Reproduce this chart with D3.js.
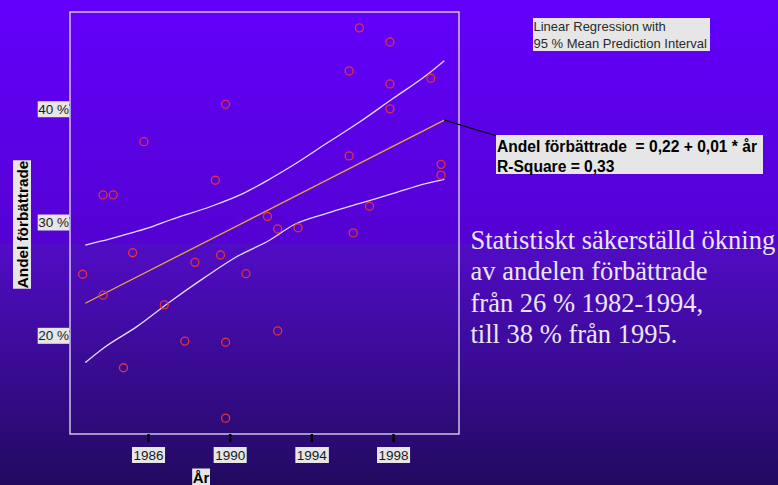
<!DOCTYPE html>
<html>
<head>
<meta charset="utf-8">
<script src="https://cdn.jsdelivr.net/npm/d3@7/dist/d3.min.js"></script>
<style>
  html, body { margin: 0; padding: 0; overflow: hidden; background: #3a06a8; }
  svg { display: block; }
  .sans { font-family: Arial, "Liberation Sans", Helvetica, sans-serif; }
  .serif { font-family: "Liberation Serif", "Times New Roman", Times, serif; }
</style>
</head>
<body>
<svg id="chart" width="778" height="485"></svg>
<script>
// Observed share of improved cases per period (year, percent)
const years = [1982.8, 1983.8, 1983.8, 1984.3, 1984.8, 1985.25, 1985.8, 1986.8, 1987.8, 1988.3,
               1989.3, 1989.55, 1989.8, 1989.8, 1989.8, 1990.8, 1991.85, 1992.35, 1992.35, 1993.35,
               1995.85, 1995.85, 1996.05, 1996.35, 1996.85, 1997.85, 1997.85, 1997.85, 1999.85,
               2000.35, 2000.35];
const shares = [25.0, 32.0, 23.15, 32.0, 16.75, 26.9, 36.7, 22.3, 19.1, 26.05,
                33.3, 26.7, 40.0, 19.0, 12.3, 25.05, 30.1, 29.0, 20.0, 29.1,
                42.95, 35.45, 28.65, 46.75, 31.0, 45.5, 41.8, 39.6, 42.3,
                34.7, 33.75];

// Fitted regression line and its 95 % mean prediction interval
const fitYears = [1982.93, 2000.51];
const fitValues = [22.44, 38.61];
const bandYears = [1982.93, 1983.81, 1984.79, 1986.1, 1987.08, 1989.04, 1990.67, 1991.97,
                   1993.12, 1994.75, 1996.38, 1998.01, 1999.65, 2000.51];
const upperBand = [27.58, 27.96, 28.46, 29.14, 29.79, 30.96, 32.14, 33.41,
                   34.64, 36.56, 38.46, 40.53, 42.59, 43.85];
const lowerYears = [1982.93, 1983.81, 1985.45, 1987.08, 1988.71, 1990.34, 1991.97,
                    1993.12, 1994.75, 1996.38, 1998.01, 1999.65, 2000.51];
const lowerBand = [17.2, 18.47, 20.38, 22.58, 24.64, 26.55, 28.02,
                   29.35, 30.38, 31.26, 32.14, 33.03, 33.38];

const xTicks = [1986, 1990, 1994, 1998];
const yTicks = [20, 30, 40];

const legendLines = ["Linear Regression with", "95 % Mean Prediction Interval"];
const equationLines = ["Andel förbättrade  = 0,22 + 0,01 * år", "R-Square = 0,33"];
const noteLines = ["Statistiskt säkerställd ökning", "av andelen förbättrade",
                   "från 26 % 1982-1994,", "till 38 % från 1995."];

const W = 778, H = 485;
const plot = { left: 70, top: 12, right: 459, bottom: 434 };

const svg = d3.select("#chart");

// Slide background: vertical violet gradient
const defs = svg.append("defs");
const grad = defs.append("linearGradient")
  .attr("id", "bg").attr("x1", 0).attr("y1", 0).attr("x2", 0).attr("y2", 1);
[["0%", "#6300fc"], ["50%", "#5402d2"], ["50.4%", "#510cc6"], ["100%", "#220a60"]]
  .forEach(([o, c]) => grad.append("stop").attr("offset", o).attr("stop-color", c));
svg.append("rect").attr("width", W).attr("height", H).attr("fill", "url(#bg)");

const x = d3.scaleLinear().domain([1982.18, 2001.23]).range([plot.left, plot.right]);
const y = d3.scaleLinear().domain([10.9, 48.15]).range([plot.bottom, plot.top]);

// Grey label boxes behind text, sized from the text's own box
function boxBehind(sel, padX, padY) {
  sel.each(function () {
    const b = this.getBBox();
    const t = d3.select(this).attr("transform");
    d3.select(this.parentNode).insert("rect", () => this)
      .attr("x", b.x - padX).attr("y", b.y - padY)
      .attr("width", b.width + 2 * padX).attr("height", b.height + 2 * padY)
      .attr("transform", t)
      .attr("fill", "#e6e6e6");
  });
}

// Plot frame
svg.append("rect")
  .attr("x", plot.left).attr("y", plot.top)
  .attr("width", plot.right - plot.left).attr("height", plot.bottom - plot.top)
  .attr("fill", "none").attr("stroke", "#e4e0f2").attr("stroke-width", 1.3);

// X axis
const xAxis = svg.append("g")
  .attr("class", "sans")
  .attr("transform", `translate(0,${plot.bottom})`)
  .call(d3.axisBottom(x).tickValues(xTicks).tickFormat(d3.format("d")).tickSize(8).tickPadding(6));
xAxis.attr("font-family", null);
xAxis.select(".domain").remove();
xAxis.selectAll(".tick line").attr("stroke", "#000").attr("stroke-width", 2.5);
xAxis.selectAll(".tick text")
  .attr("fill", "#1a1a1a").attr("font-size", "13.5px").attr("dy", null)
  .attr("y", 25.5)
  .call(boxBehind, 1.5, 0.5);

// Y axis
const yAxis = svg.append("g")
  .attr("class", "sans")
  .attr("transform", `translate(${plot.left},0)`)
  .call(d3.axisLeft(y).tickValues(yTicks).tickFormat(d => d + " %").tickSize(3).tickPadding(1));
yAxis.attr("font-family", null);
yAxis.select(".domain").remove();
yAxis.selectAll(".tick line").attr("stroke", "#000").attr("stroke-width", 2);
yAxis.selectAll(".tick text")
  .attr("fill", "#1a1a1a").attr("font-size", "13.5px").attr("x", -1).attr("dy", null)
  .attr("y", 8.9)
  .call(boxBehind, 0.5, 0.5);

// Axis titles
const yTitle = svg.append("g").attr("class", "sans")
  .attr("transform", "translate(27.5,224.5) rotate(-90)");
yTitle.append("text")
  .attr("text-anchor", "middle").attr("font-weight", "bold").attr("font-size", "15.3px")
  .attr("fill", "#000").text("Andel förbättrade")
  .call(boxBehind, 0.5, 0.5);

const xTitle = svg.append("g").attr("class", "sans");
xTitle.append("text")
  .attr("x", 201).attr("y", 483).attr("text-anchor", "middle")
  .attr("font-weight", "bold").attr("font-size", "15px").attr("fill", "#000").text("År")
  .call(boxBehind, 0.5, 0.5);

// Regression line and interval curves
const line = d3.line().x(d => x(d[0])).y(d => y(d[1])).curve(d3.curveMonotoneX);
svg.append("path")
  .datum(bandYears.map((yr, i) => [yr, upperBand[i]]))
  .attr("d", line).attr("fill", "none").attr("stroke", "#e6dcff").attr("stroke-width", 1.3);
svg.append("path")
  .datum(lowerYears.map((yr, i) => [yr, lowerBand[i]]))
  .attr("d", line).attr("fill", "none").attr("stroke", "#e6dcff").attr("stroke-width", 1.3);
svg.append("path")
  .datum(fitYears.map((yr, i) => [yr, fitValues[i]]))
  .attr("d", line).attr("fill", "none").attr("stroke", "#e8a83c").attr("stroke-width", 1.3);

// Observations
svg.append("g").selectAll("circle")
  .data(years.map((yr, i) => [yr, shares[i]]))
  .join("circle")
  .attr("cx", d => x(d[0])).attr("cy", d => y(d[1])).attr("r", 4)
  .attr("fill", "none").attr("stroke", "#e2323e").attr("stroke-width", 1.3);

// Legend
const legend = svg.append("g").attr("class", "sans");
legend.append("rect").attr("x", 533).attr("y", 18).attr("width", 177).attr("height", 33)
  .attr("fill", "#e6e6e6");
legend.selectAll("text").data(legendLines).join("text")
  .attr("x", 533.5).attr("y", (d, i) => 31 + i * 16.8)
  .attr("font-size", "13px").attr("fill", "#2a2a2a").text(d => d);

// Equation callout
const fitEnd = [x(fitYears[1]), y(fitValues[1])];
svg.append("line")
  .attr("x1", fitEnd[0]).attr("y1", fitEnd[1]).attr("x2", 497).attr("y2", 136)
  .attr("stroke", "#000").attr("stroke-width", 1.3);
const eq = svg.append("g").attr("class", "sans");
eq.append("rect").attr("x", 496).attr("y", 135).attr("width", 267).attr("height", 39)
  .attr("fill", "#e6e6e6");
eq.selectAll("text").data(equationLines).join("text")
  .attr("x", 497).attr("y", (d, i) => 151.5 + i * 20)
  .attr("font-size", "15.6px").attr("font-weight", "bold").attr("fill", "#000")
  .style("white-space", "pre").text(d => d);

// Conclusion text
svg.append("g").attr("class", "serif").selectAll("text").data(noteLines).join("text")
  .attr("x", 470.5).attr("y", (d, i) => 248.5 + i * 31.5)
  .attr("font-size", "26.5px").attr("fill", "#ebe6f6").text(d => d);
</script>
</body>
</html>
